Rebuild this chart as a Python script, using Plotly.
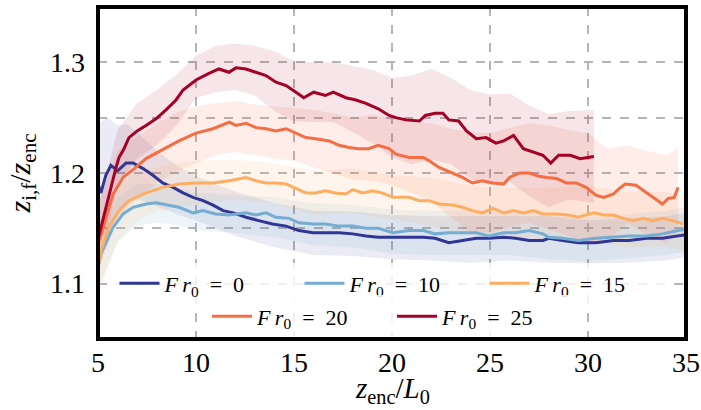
import plotly.graph_objects as go

# ---------------- data ----------------
labels = ["0", "10", "15", "20", "25"]
colors = ["#313695", "#74add1", "#fdae61", "#f46d43", "#a50026"]
band_rgba = ["rgba(49,54,149,0.10)", "rgba(116,173,209,0.12)", "rgba(253,174,97,0.12)",
             "rgba(244,109,67,0.12)", "rgba(165,0,38,0.10)"]

fr0_x = [5.0, 5.15, 5.4, 5.66, 6.0, 6.43, 6.79, 7.3, 7.8, 8.3, 8.83, 9.34, 9.85, 10.36, 10.87,
         11.38, 11.9, 12.55, 13.2, 13.9, 14.6, 15.25, 15.97, 16.6, 17.3, 18.0, 18.67, 19.3, 20.05,
         20.87, 21.6, 22.2, 22.9, 23.6, 24.3, 24.95, 25.7, 26.3, 27.0, 27.7, 28.0, 28.7, 29.5,
         30.4, 31.3, 32.1, 33.0, 33.8, 34.6, 34.9]
fr0_y = [1.19, 1.182, 1.198, 1.207, 1.202, 1.209, 1.209, 1.204, 1.198, 1.191, 1.187, 1.182, 1.178,
         1.175, 1.171, 1.166, 1.164, 1.16, 1.157, 1.154, 1.152, 1.148, 1.146, 1.146, 1.146, 1.145,
         1.143, 1.142, 1.142, 1.142, 1.142, 1.141, 1.137, 1.139, 1.141, 1.141, 1.142, 1.141, 1.139,
         1.139, 1.141, 1.139, 1.137, 1.137, 1.139, 1.139, 1.141, 1.141, 1.143, 1.144]

fr10_x = [5.0, 5.15, 5.77, 6.28, 6.79, 7.45, 7.96, 8.6, 9.13, 9.85, 10.36, 11.0, 11.7, 12.55, 13.06,
          13.57, 14.08, 14.75, 15.25, 15.97, 16.6, 17.3, 18.0, 18.67, 19.3, 20.05, 20.87, 21.6,
          22.2, 22.9, 23.6, 24.3, 24.95, 25.7, 26.3, 27.0, 27.7, 28.0, 28.7, 29.5, 30.4, 31.3,
          32.1, 33.0, 33.8, 34.6, 34.9]
fr10_y = [1.115, 1.127, 1.151, 1.163, 1.169, 1.172, 1.173, 1.171, 1.169, 1.164, 1.166, 1.163, 1.162,
          1.164, 1.162, 1.164, 1.16, 1.159, 1.155, 1.154, 1.154, 1.152, 1.152, 1.15, 1.15, 1.146,
          1.148, 1.148, 1.145, 1.146, 1.146, 1.146, 1.143, 1.146, 1.146, 1.148, 1.145, 1.142, 1.141,
          1.139, 1.141, 1.142, 1.143, 1.143, 1.145, 1.148, 1.149]

fr15_x = [5.0, 5.15, 5.56, 6.07, 6.58, 7.45, 8.3, 9.13, 10.0, 10.87, 11.7, 12.55, 13.06, 13.57,
          14.08, 14.6, 15.1, 15.6, 16.1, 16.6, 17.1, 17.65, 18.0, 18.5, 19.0, 19.5, 20.05, 20.87,
          21.4, 21.9, 22.4, 23.1, 23.6, 24.1, 24.6, 25.15, 25.7, 26.2, 26.7, 27.2, 27.7, 28.4,
          29.0, 29.5, 30.05, 30.3, 30.8, 31.3, 31.8, 32.3, 32.8, 33.3, 33.8, 34.3, 34.85]
fr15_y = [1.115, 1.13, 1.151, 1.166, 1.175, 1.182, 1.187, 1.19, 1.191, 1.191, 1.193, 1.196, 1.193,
          1.191, 1.191, 1.19, 1.186, 1.182, 1.182, 1.184, 1.182, 1.181, 1.185, 1.182, 1.184, 1.182,
          1.178, 1.178, 1.175, 1.175, 1.172, 1.171, 1.169, 1.166, 1.164, 1.168, 1.164, 1.166, 1.164,
          1.166, 1.163, 1.163, 1.162, 1.16, 1.163, 1.164, 1.162, 1.162, 1.159, 1.157, 1.159, 1.157,
          1.159, 1.157, 1.154]

fr20_x = [5.0, 5.77, 6.28, 6.79, 7.45, 8.3, 9.13, 10.0, 10.87, 11.7, 12.04, 12.55, 13.06, 13.57,
          14.08, 14.6, 15.1, 15.6, 16.1, 16.8, 17.3, 17.8, 18.3, 18.8, 19.3, 19.85, 20.2, 20.87,
          21.6, 21.9, 22.4, 23.1, 23.6, 24.1, 24.6, 25.15, 25.7, 26.0, 26.5, 27.0, 27.5, 27.9,
          28.4, 28.9, 29.4, 29.9, 30.4, 30.8, 31.3, 31.6, 31.9, 32.45, 33.0, 33.5, 33.8, 34.1,
          34.4, 34.6]
fr20_y = [1.135, 1.181, 1.196, 1.203, 1.213, 1.221, 1.229, 1.236, 1.24, 1.246, 1.243, 1.245, 1.241,
          1.24, 1.238, 1.24, 1.236, 1.232, 1.231, 1.229, 1.225, 1.223, 1.222, 1.222, 1.225, 1.222,
          1.217, 1.214, 1.214, 1.211, 1.205, 1.2, 1.196, 1.191, 1.193, 1.191, 1.19, 1.196, 1.2, 1.2,
          1.197, 1.196, 1.195, 1.191, 1.191, 1.187, 1.18, 1.178, 1.181, 1.186, 1.19, 1.189, 1.182,
          1.175, 1.172, 1.177, 1.178, 1.187]

fr25_x = [5.0, 5.15, 5.66, 5.92, 6.07, 6.3, 6.58, 7.0, 7.45, 7.96, 8.47, 8.98, 9.34, 10.0, 10.66,
          11.17, 11.68, 12.04, 12.55, 13.06, 13.57, 14.08, 14.6, 15.1, 15.5, 16.0, 16.6, 17.0,
          17.65, 18.16, 18.67, 19.3, 19.85, 20.2, 20.7, 21.4, 21.7, 22.2, 22.6, 22.9, 23.4, 23.8,
          24.3, 24.8, 25.3, 25.7, 26.2, 26.7, 27.2, 27.7, 28.1, 28.5, 29.1, 29.6, 30.3]
fr25_y = [1.14, 1.151, 1.187, 1.205, 1.214, 1.221, 1.232, 1.238, 1.243, 1.249, 1.257, 1.266, 1.275,
          1.284, 1.29, 1.294, 1.291, 1.295, 1.294, 1.291, 1.288, 1.282, 1.279, 1.273, 1.268, 1.273,
          1.27, 1.273, 1.268, 1.266, 1.263, 1.258, 1.252, 1.25, 1.248, 1.247, 1.252, 1.254, 1.254,
          1.248, 1.247, 1.238, 1.231, 1.232, 1.227, 1.229, 1.234, 1.222, 1.219, 1.216, 1.209, 1.216,
          1.216, 1.213, 1.215]

# shaded spread bands (upper / lower edges)
band0_x = [5, 5.5, 6, 6.5, 7, 8, 9, 10, 12, 14, 16, 18, 20, 22, 24, 26, 28, 30, 32, 34, 35]
band0_hi = [1.245, 1.25, 1.243, 1.244, 1.237, 1.22, 1.207, 1.197, 1.183, 1.173, 1.166, 1.165,
            1.162, 1.161, 1.161, 1.161, 1.161, 1.157, 1.159, 1.161, 1.164]
band0_lo = [1.135, 1.15, 1.163, 1.174, 1.177, 1.17, 1.163, 1.157, 1.143, 1.133, 1.126, 1.125,
            1.122, 1.121, 1.119, 1.121, 1.119, 1.117, 1.119, 1.121, 1.124]

band10_x = [5, 6, 7, 8, 9, 10, 12, 14, 16, 18, 20, 22, 24, 26, 28, 30, 32, 34, 35]
band10_hi = [1.135, 1.178, 1.19, 1.19, 1.187, 1.182, 1.18, 1.178, 1.173, 1.171, 1.167, 1.166,
             1.166, 1.166, 1.162, 1.16, 1.163, 1.166, 1.169]
band10_lo = [1.095, 1.138, 1.152, 1.155, 1.153, 1.148, 1.146, 1.142, 1.135, 1.133, 1.127, 1.126,
             1.126, 1.126, 1.122, 1.12, 1.123, 1.126, 1.129]

band15_x = [5, 6, 7, 8, 9, 10, 12, 14, 16, 18, 20, 22, 24, 26, 28, 30, 32, 34, 35]
band15_hi = [1.14, 1.188, 1.201, 1.205, 1.209, 1.211, 1.212, 1.209, 1.202, 1.204, 1.198, 1.196,
             1.188, 1.187, 1.187, 1.188, 1.183, 1.183, 1.179]
band15_lo = [1.09, 1.138, 1.157, 1.165, 1.169, 1.171, 1.176, 1.173, 1.162, 1.164, 1.158, 1.152,
             1.144, 1.143, 1.139, 1.138, 1.133, 1.133, 1.129]

band20_x = [5, 6, 7, 8, 9, 10, 11, 12, 13, 14, 15, 16, 17, 18, 19, 20, 21, 22, 23, 24, 25, 26,
            27, 28, 29, 30, 31, 32, 33, 34, 34.6]
band20_hi = [1.17, 1.22, 1.233, 1.245, 1.255, 1.26, 1.263, 1.265, 1.262, 1.26, 1.259, 1.257,
             1.254, 1.25, 1.253, 1.249, 1.246, 1.245, 1.24, 1.237, 1.236, 1.241, 1.245, 1.243,
             1.239, 1.236, 1.222, 1.225, 1.22, 1.216, 1.223]
band20_lo = [1.11, 1.16, 1.177, 1.191, 1.201, 1.209, 1.216, 1.219, 1.216, 1.213, 1.211, 1.205,
             1.2, 1.194, 1.193, 1.189, 1.182, 1.175, 1.16, 1.147, 1.146, 1.151, 1.155, 1.149,
             1.143, 1.136, 1.138, 1.155, 1.144, 1.136, 1.147]

band25_x = [5, 6, 7, 8, 9, 10, 11, 12, 13, 14, 15, 16, 17, 18, 19, 20, 21, 22, 23, 24, 25, 26,
            27, 28, 29, 30.3]
band25_hi = [1.17, 1.239, 1.263, 1.275, 1.289, 1.306, 1.315, 1.317, 1.315, 1.31, 1.301, 1.3, 1.3,
             1.297, 1.293, 1.286, 1.288, 1.294, 1.286, 1.275, 1.271, 1.272, 1.261, 1.253, 1.256,
             1.257]
band25_lo = [1.11, 1.189, 1.213, 1.225, 1.243, 1.268, 1.273, 1.275, 1.27, 1.256, 1.247, 1.246,
             1.246, 1.237, 1.227, 1.214, 1.208, 1.212, 1.208, 1.195, 1.189, 1.192, 1.179, 1.169,
             1.176, 1.173]

x_ticks = [5, 10, 15, 20, 25, 30, 35]
y_ticks = [1.1, 1.2, 1.3]
y_ticklabels = ["1.1", "1.2", "1.3"]
x_title = "<i>z</i><sub>enc</sub>/<i>L</i><sub>0</sub>"
y_title = "<i>z</i><sub>i,f</sub>/<i>z</i><sub>enc</sub>"

# ---------------- figure ----------------
lines = [(fr0_x, fr0_y), (fr10_x, fr10_y), (fr15_x, fr15_y), (fr20_x, fr20_y), (fr25_x, fr25_y)]
bands = [(band0_x, band0_hi, band0_lo), (band10_x, band10_hi, band10_lo),
         (band15_x, band15_hi, band15_lo), (band20_x, band20_hi, band20_lo),
         (band25_x, band25_hi, band25_lo)]

fig = go.Figure()
for (bx, hi, lo), fc in zip(bands, band_rgba):
    fig.add_trace(go.Scatter(x=list(bx) + list(bx)[::-1], y=list(hi) + list(lo)[::-1],
                             fill="toself", fillcolor=fc, line=dict(width=0),
                             mode="lines", showlegend=False, hoverinfo="skip"))

SERIF = "Liberation Serif, Times New Roman, serif"
for i, ((lx, ly), c, lab) in enumerate(zip(lines, colors, labels)):
    name = "<i>F</i>&#8201;<i>r</i><sub>0</sub>&nbsp;&nbsp;=&nbsp;&nbsp;" + lab
    fig.add_trace(go.Scatter(x=lx, y=ly, mode="lines", line=dict(color=c, width=3),
                             name=name, legend="legend" if i < 3 else "legend2"))

legend_common = dict(orientation="h", xanchor="center", x=0.5, yanchor="middle",
                     bgcolor="rgba(255,255,255,0.8)", borderwidth=0,
                     font=dict(family=SERIF, size=22, color="black"),
                     entrywidth=130, entrywidthmode="pixels", itemwidth=40)

fig.update_layout(
    width=701, height=410,
    margin=dict(l=98, r=15, t=7, b=71, autoexpand=False),
    plot_bgcolor="white", paper_bgcolor="white",
    font=dict(family=SERIF, color="black"),
    legend=dict(y=0.167, **legend_common),
    legend2=dict(y=0.068, **legend_common),
    xaxis=dict(range=[5, 35], tickvals=x_ticks, ticktext=[str(v) for v in x_ticks],
               automargin=False,
               showgrid=True, gridcolor="#b5b5b5", griddash="dash", gridwidth=1.5,
               zeroline=False, showline=False, ticks="",
               tickfont=dict(family=SERIF, size=28), ticklabelstandoff=4),
    yaxis=dict(range=[1.05, 1.35], tickvals=y_ticks, ticktext=y_ticklabels,
               automargin=False,
               showgrid=True, gridcolor="#b5b5b5", griddash="dash", gridwidth=1.5,
               minor=dict(dtick=0.05, tick0=1.05, showgrid=True, gridcolor="#b5b5b5",
                          griddash="dash", gridwidth=1.5),
               zeroline=False, showline=False, ticks="",
               tickfont=dict(family=SERIF, size=28), ticklabelstandoff=12,
               title=dict(text=y_title, font=dict(family=SERIF, size=30), standoff=10)),
    annotations=[dict(text=x_title, xref="paper", yref="paper", x=0.5, y=-0.155,
                      xanchor="center", yanchor="middle", showarrow=False,
                      font=dict(family=SERIF, size=29, color="black"))],
    shapes=[dict(type="rect", xref="paper", yref="paper", x0=0, x1=1, y0=0, y1=1,
                 line=dict(color="black", width=4), layer="above")],
)

fig.write_html("out.html", config={"displayModeBar": False},
               post_script="document.body.style.margin='0';document.body.style.padding='0';")
